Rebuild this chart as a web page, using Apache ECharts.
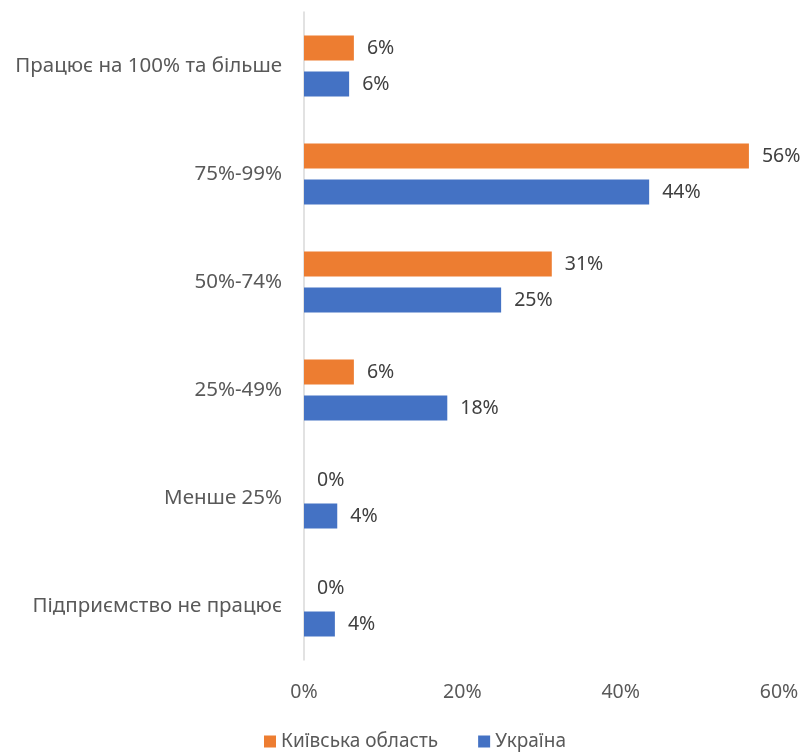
<!DOCTYPE html>
<html>
<head>
<meta charset="utf-8">
<script src="https://cdn.jsdelivr.net/npm/echarts@6/dist/echarts.min.js"></script>
<style>
  html, body { margin: 0; padding: 0; background: #fff; }
  #chart { width: 807px; height: 753px; }
</style>
</head>
<body>
<div id="chart"></div>
<script>
var categories = ['Працює на 100% та більше', '75%-99%', '50%-74%', '25%-49%', 'Менше 25%', 'Підприємство не працює'];
var kyivValues = [6.3, 56.2, 31.3, 6.3, 0, 0];
var ukraineValues = [5.7, 43.6, 24.9, 18.1, 4.2, 3.9];
var xTicks = [0, 20, 40, 60];

var chart = echarts.init(document.getElementById('chart'));
var font = 'Noto Sans';

function pctLabel(p) { return Math.round(p.value) + '%'; }

var option = {
    animation: false,
    textStyle: { fontFamily: font },
    grid: { left: 304, right: 28, top: 12, bottom: 93 },
    legend: {
        bottom: -3,
        left: 259,
        icon: 'rect',
        itemWidth: 12,
        itemHeight: 12,
        itemGap: 40,
        itemTextGap: 6,
        textStyle: { fontSize: 19, color: '#595959', fontFamily: font },
        data: ['Київська область', 'Україна']
    },
    xAxis: {
        type: 'value',
        min: 0,
        max: 60,
        interval: 20,
        splitLine: { show: false },
        axisLine: { show: false },
        axisTick: { show: false },
        axisLabel: {
            fontSize: 19.5,
            color: '#595959',
            margin: 22,
            formatter: function (v) { return xTicks.indexOf(v) >= 0 ? v + '%' : ''; }
        }
    },
    yAxis: {
        type: 'category',
        inverse: true,
        data: categories,
        axisLine: { show: true, lineStyle: { color: '#d9d9d9', width: 1.5 } },
        axisTick: { show: false },
        axisLabel: { fontSize: 20.5, color: '#595959', margin: 22 }
    },
    series: [
        {
            name: 'Київська область',
            type: 'bar',
            data: kyivValues,
            barWidth: 25,
            barGap: '44%',
            itemStyle: { color: '#ED7D31' },
            label: { show: true, position: 'right', distance: 13, fontSize: 19.5, color: '#404040', formatter: pctLabel }
        },
        {
            name: 'Україна',
            type: 'bar',
            data: ukraineValues,
            barWidth: 25,
            barGap: '44%',
            itemStyle: { color: '#4472C4' },
            label: { show: true, position: 'right', distance: 13, fontSize: 19.5, color: '#404040', formatter: pctLabel }
        }
    ]
};
chart.setOption(option);
</script>
</body>
</html>
